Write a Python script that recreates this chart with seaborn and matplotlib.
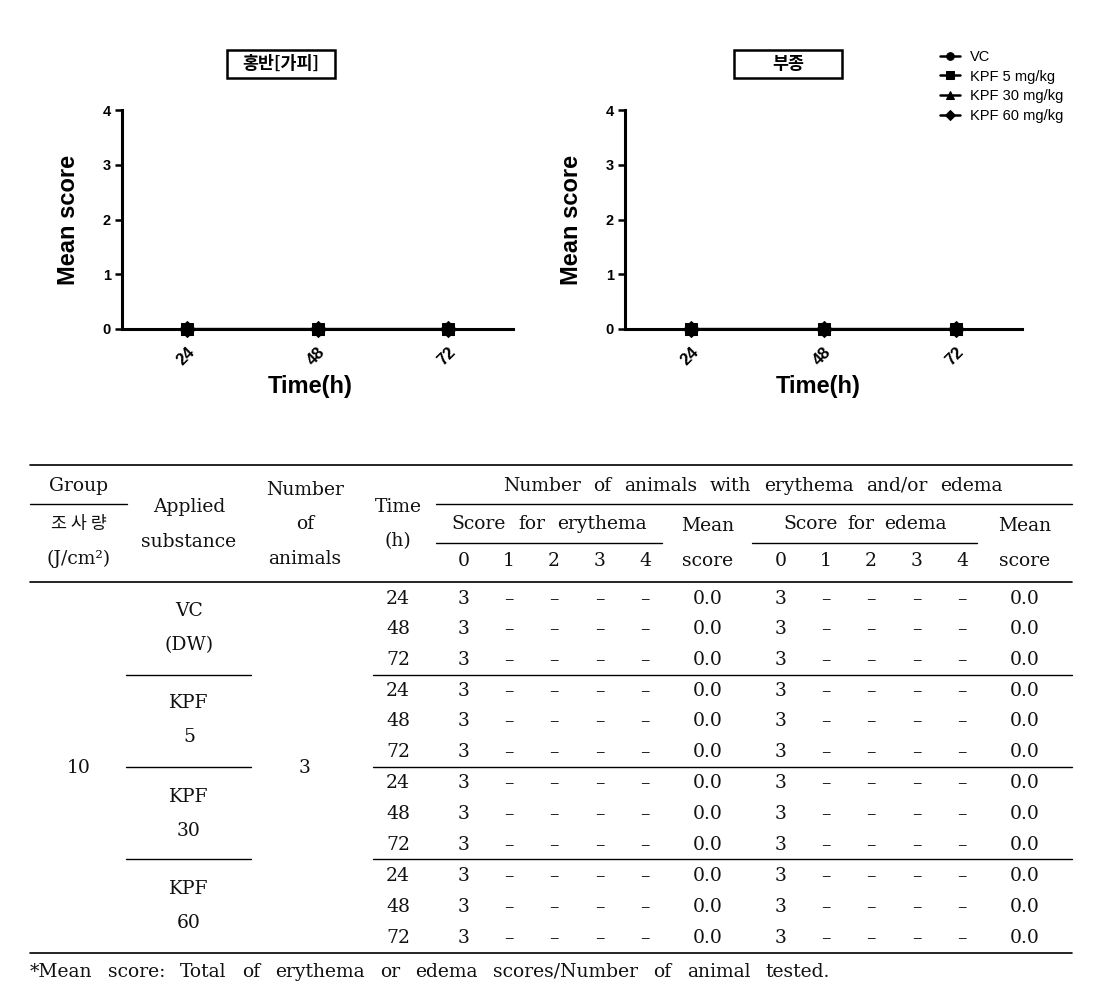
import matplotlib
matplotlib.use("Agg")
import matplotlib.pyplot as plt
import seaborn as sns
import pandas as pd
from matplotlib.lines import Line2D
from matplotlib.patches import Rectangle

# ---------------- data ----------------
times = [24, 48, 72]
groups = ["VC", "KPF 5 mg/kg", "KPF 30 mg/kg", "KPF 60 mg/kg"]
erythema_mean = {"VC": [0, 0, 0], "KPF 5 mg/kg": [0, 0, 0],
                 "KPF 30 mg/kg": [0, 0, 0], "KPF 60 mg/kg": [0, 0, 0]}
edema_mean = {"VC": [0, 0, 0], "KPF 5 mg/kg": [0, 0, 0],
              "KPF 30 mg/kg": [0, 0, 0], "KPF 60 mg/kg": [0, 0, 0]}
panel_titles = ["홍반[가피]", "부종"]
markers = ["o", "s", "^", "D"]

# table data
dose_group = "10"
n_animals = "3"
substances = [("VC", "(DW)"), ("KPF", "5"), ("KPF", "30"), ("KPF", "60")]
score_levels = [0, 1, 2, 3, 4]
ery_counts = [[3, 0, 0, 0, 0]] * 12
ede_counts = [[3, 0, 0, 0, 0]] * 12
ery_means = [0.0] * 12
ede_means = [0.0] * 12
footnote = "*Mean score: Total of erythema or edema scores/Number of animal tested."

# ---------------- figure ----------------
sns.set_theme(style="white")
plt.rcParams["font.family"] = ["Liberation Sans", "Noto Sans CJK KR", "DejaVu Sans"]
plt.rcParams["text.color"] = "black"
plt.rcParams["axes.labelcolor"] = "black"
plt.rcParams["xtick.color"] = "black"
plt.rcParams["ytick.color"] = "black"
W, H = 1100, 994
fig = plt.figure(figsize=(W / 100, H / 100), dpi=100)


def fx(x):
    return x / W


def fy(y):
    return 1 - y / H


def long_df(d):
    rows = []
    for g in groups:
        for t, v in zip(times, d[g]):
            rows.append({"Time": t, "Mean": v, "Group": g})
    return pd.DataFrame(rows)


panels = [(erythema_mean, 122, 513, 281, 310), (edema_mean, 625, 1022, 788, 818)]
axes = []
for i, (d, x0, x1, tcx, lcx) in enumerate(panels):
    ax = fig.add_axes([fx(x0), fy(329), fx(x1 - x0), (329 - 110) / H])
    df = long_df(d)
    sns.lineplot(data=df, x="Time", y="Mean", hue="Group", style="Group",
                 hue_order=groups, style_order=groups,
                 palette=["black"] * 4, markers=markers, dashes=False,
                 markersize=8.5, linewidth=1.5, markeredgecolor="black",
                 ax=ax, legend=(i == 1), clip_on=False, zorder=5)
    ax.set_xlim(12, 84)
    ax.set_ylim(0, 4)
    ax.set_xticks(times)
    ax.set_xticklabels([str(t) for t in times], rotation=45, ha="right",
                       rotation_mode="anchor", fontsize=12, fontweight="bold")
    ax.set_yticks([0, 1, 2, 3, 4])
    ax.set_yticklabels(["0", "1", "2", "3", "4"], fontsize=10.5, fontweight="bold")
    ax.tick_params(axis="both", which="major", direction="out", length=5,
                   width=1.8, color="black", bottom=True, left=True, pad=3)
    ax.tick_params(axis="x", length=4, pad=7)
    for s in ["top", "right"]:
        ax.spines[s].set_visible(False)
    for s in ["left", "bottom"]:
        ax.spines[s].set_color("black")
        ax.spines[s].set_linewidth(2.2)
    ax.set_xlabel("Time(h)", fontsize=17, fontweight="bold", labelpad=0)
    ax.xaxis.set_label_coords((lcx - x0) / (x1 - x0), -0.21)
    ax.set_ylabel("Mean score", fontsize=17, fontweight="bold", labelpad=16)
    ax.patch.set_alpha(0)
    bw, bh = 108, 28
    fig.add_artist(Rectangle((fx(tcx - bw / 2), fy(78)), bw / W, bh / H,
                             transform=fig.transFigure, fill=False,
                             edgecolor="black", linewidth=1.8))
    fig.text(fx(tcx), fy(64), panel_titles[i], ha="center", va="center",
             fontsize=12.5, fontweight="bold",
             family=["Noto Sans CJK KR", "DejaVu Sans"])
    axes.append(ax)

# legend
h, l = axes[1].get_legend_handles_labels()
axes[1].get_legend().remove()
for hh in h:
    hh.set_markersize(5.5)
    hh.set_linewidth(1.8)
fig.legend(h, l, loc="upper left", bbox_to_anchor=(fx(940), fy(50)),
           frameon=False, fontsize=10.5, handlelength=1.35, handletextpad=0.7,
           labelspacing=0.38, borderaxespad=0, borderpad=0)

# ---------------- table ----------------
serif = ["DejaVu Serif", "Noto Sans CJK KR"]
TS = 13.5
TC = "#111111"


def T(x, y, s, fam=None, **kw):
    kw.setdefault("fontsize", TS)
    fig.text(fx(x), fy(y), s, ha="center", va="center",
             family=fam or serif, color=TC, **kw)


def L(x0, x1, y, lw=1.0):
    fig.add_artist(Line2D([fx(x0), fx(x1)], [fy(y), fy(y)],
                          transform=fig.transFigure, color="black", lw=lw))


justify_jobs = []


def TJ(x0, x1, y, s):
    """words spread evenly between x0 and x1 (pixel coords)"""
    objs = [fig.text(fx(x0), fy(y), w, ha="left", va="center", family=serif,
                     color=TC, fontsize=TS) for w in s.split(" ")]
    justify_jobs.append((x0, x1, objs))


L(30, 1072, 465, 1.2)
L(30, 127, 504)
L(436, 1072, 504)
L(436, 662, 543)
L(752, 977, 543)
L(30, 1072, 582, 1.2)
L(30, 1072, 953, 1.2)

T(79, 486, "Group")
T(79, 524, "조 사 량", fam=["Noto Sans CJK KR", "DejaVu Serif"], fontsize=12.5)
T(79, 559, "(J/cm²)")
T(189, 507, "Applied")
T(189, 542, "substance")
T(305, 490, "Number")
T(305, 524, "of")
T(305, 559, "animals")
T(398, 507, "Time")
T(398, 541, "(h)")
TJ(503, 1003, 486, "Number of animals with erythema and/or edema")
TJ(451, 647, 524, "Score for erythema")
T(708, 526, "Mean")
TJ(783, 947, 524, "Score for edema")
T(1025, 526, "Mean")
ery_x = [464, 509, 554, 600, 645]
ede_x = [781, 826, 871, 917, 962]
for k, lev in enumerate(score_levels):
    T(ery_x[k], 561, str(lev))
    T(ede_x[k], 561, str(lev))
T(708, 561, "score")
T(1025, 561, "score")

row_y = [599, 629, 660, 691, 721, 752, 783, 814, 845, 876, 907, 938]
for r in range(12):
    y = row_y[r]
    T(398, y, str(times[r % 3]))
    for k in range(5):
        c = ery_counts[r][k]
        T(ery_x[k], y, str(c) if c else "–")
        c2 = ede_counts[r][k]
        T(ede_x[k], y, str(c2) if c2 else "–")
    T(708, y, f"{ery_means[r]:.1f}")
    T(1025, y, f"{ede_means[r]:.1f}")

sep_y = [675, 767, 859]
for y in sep_y:
    L(126, 251, y)
    L(373, 1072, y)

sub_y = [(611, 645), (703, 737), (797, 831), (889, 923)]
for (a, b), (ya, yb) in zip(substances, sub_y):
    T(189, ya, a)
    T(189, yb, b)
T(79, 768, dose_group)
T(305, 768, n_animals)

TJ(30, 830, 972, footnote)

# apply justification
renderer = fig.canvas.get_renderer()
for x0, x1, objs in justify_jobs:
    widths = [o.get_window_extent(renderer).width for o in objs]
    gap = (x1 - x0 - sum(widths)) / max(len(objs) - 1, 1)
    x = x0
    for o, w in zip(objs, widths):
        o.set_x(fx(x))
        x += w + gap

fig.savefig("out.png", dpi=100)
